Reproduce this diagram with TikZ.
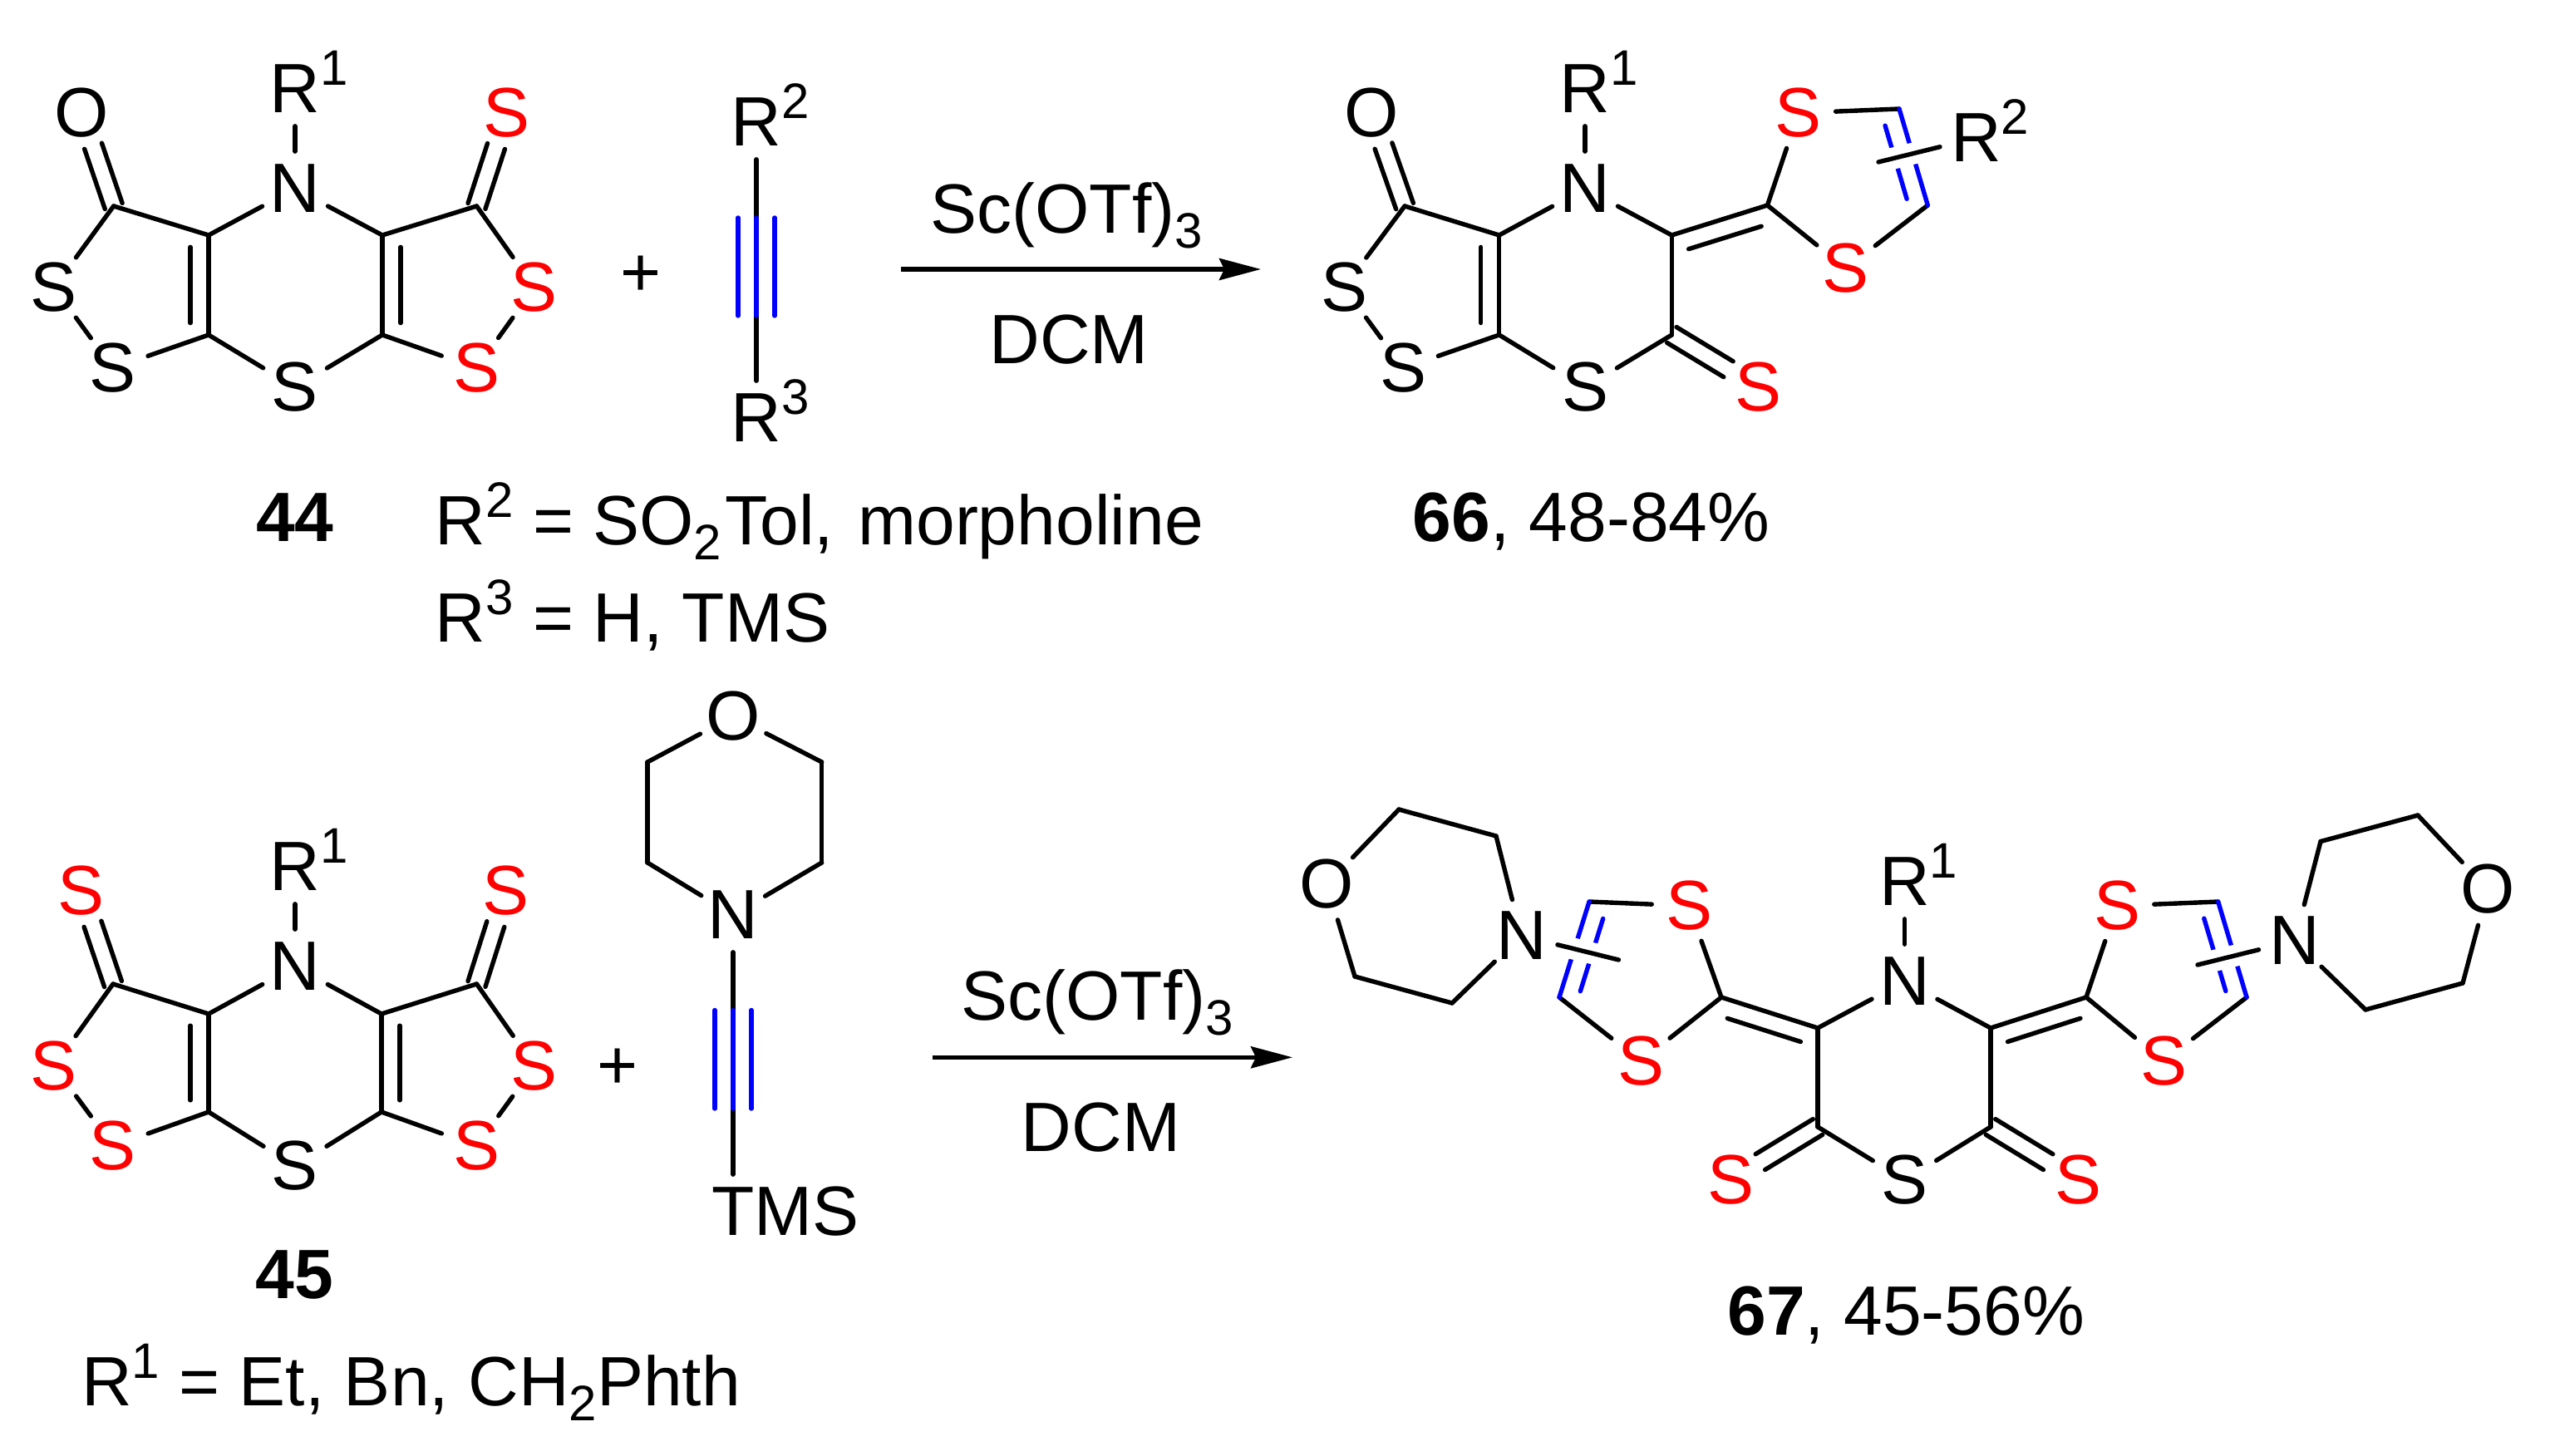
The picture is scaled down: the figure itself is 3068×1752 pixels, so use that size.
\documentclass[tikz,border=0pt]{standalone}
\usepackage{fontspec}
\setmainfont{Liberation Sans}
\usetikzlibrary{arrows.meta,calc}

\newcommand{\smallnum}[1]{\fontsize{15pt}{15pt}\selectfont #1}
\newcommand{\upnum}[1]{\raisebox{8.25pt}{\smallnum{#1}}}
\newcommand{\dnnum}[1]{\raisebox{-4.5pt}{\smallnum{#1}}}
\newcommand{\rsup}[1]{\rlap{\smash{\upnum{#1}}}}
\newcommand{\inbond}[3][black]{\draw[bond,#1] ($(#2)!.12!(#3)!5.5pt!90:(#3)$) -- ($(#3)!.12!(#2)!5.5pt!-90:(#2)$);}
\newcommand{\exobond}[2]{\draw[bond] ($(#1)!2.75pt!90:(#2)$) -- ($(#2)!10.5pt!(#1)!2.75pt!-90:(#1)$)
    ($(#1)!2.75pt!-90:(#2)$) -- ($(#2)!10.5pt!(#1)!2.75pt!90:(#1)$);}
\newcommand{\tribond}[2]{\draw[bond,blue] (#1) -- (#2)
    ($(#1)!5.5pt!90:(#2)$) -- ($(#2)!5.5pt!-90:(#1)$)
    ($(#1)!5.5pt!-90:(#2)$) -- ($(#2)!5.5pt!90:(#1)$);}

\begin{document}
\begin{tikzpicture}[x=.25pt,y=-.25pt,
    atom/.style={circle,inner sep=0pt,minimum size=22pt,font=\fontsize{21pt}{25pt}\selectfont},
    redatom/.style={atom,text=red},
    txt/.style={inner sep=0pt,font=\fontsize{21pt}{25pt}\selectfont},
    bond/.style={line width=1.35pt,line cap=round,line join=round},
    halo/.style={preaction={draw,white,line width=6.5pt,line cap=butt}},
    rxn/.style={line width=1.3pt,-{Stealth[length=12.5pt,width=6.5pt,inset=1.5pt]}}]
   \useasboundingbox (0,0) rectangle (3068,1752);

   \node[atom] (a_r) at (355,107) {R\rsup{1}};
   \node[atom] (a_n) at (355,227) {N};
   \node[atom] (a_o) at (98.5,136) {O};
   \node[atom] (a_s1) at (355,466) {S};
   \node[atom] (a_s2) at (65,346) {S};
   \node[atom] (a_s3) at (135.7,443) {S};
   \node[redatom] (a_s4) at (643,346) {S};
   \node[redatom] (a_s5) at (573.5,443) {S};
   \node[redatom] (a_s6) at (610,136) {S};
   \coordinate (a_1) at (251,283);
   \coordinate (a_2) at (460,283);
   \coordinate (a_3) at (251,403);
   \coordinate (a_4) at (460,403);
   \coordinate (a_5) at (136.7,248);
   \coordinate (a_6) at (573.5,248);
   \path[bond]
    (a_r) edge (a_n)
    (a_n) edge (a_1) edge (a_2)
    (a_1) edge (a_3) edge (a_5)
    (a_2) edge (a_4) edge (a_6)
    (a_s1) edge (a_3) edge (a_4)
    (a_s2) edge (a_5) edge (a_s3)
    (a_s3) edge (a_3)
    (a_s4) edge (a_6) edge (a_s5)
    (a_s5) edge (a_4);
   \inbond{a_3}{a_1}
   \inbond{a_2}{a_4}
   \exobond{a_5}{a_o}
   \exobond{a_6}{a_s6}
   \node[txt,anchor=base] (a_lab) at (355,652) {\bfseries 44};

   \node[atom] (plus_a) at (770.6,332) {+};

   \node[atom] (b_r2) at (910,147) {R\rsup{2}};
   \node[atom] (b_r3) at (910,503) {R\rsup{3}};
   \coordinate (b_1) at (910,262);
   \coordinate (b_2) at (910,380);
   \path[bond] (b_r2) edge (b_1) (b_2) edge (b_r3);
   \tribond{b_1}{b_2}
   \node[txt,anchor=base west] (b_l2) at (523,656) {R\upnum{2} = SO\dnnum{2}\kern1pt Tol,\kern1.5pt{} morpholine};
   \node[txt,anchor=base west] (b_l3) at (523,773) {R\upnum{3} = H, TMS};

   \coordinate (arr_a) at (1084.4,324);
   \coordinate (arr_b) at (1517,324);
   \draw[rxn] (arr_a) -- (arr_b);
   \node[txt,anchor=base] (cat_a) at (1283,280.7) {Sc(OTf)\dnnum{3}};
   \node[txt,anchor=base] (sol_a) at (1286,437.7) {DCM};

   \node[atom] (c_r) at (1907,107) {R\rsup{1}};
   \node[atom] (c_n) at (1907,227) {N};
   \node[atom] (c_o) at (1650.6,136) {O};
   \node[atom] (c_s1) at (1907,466) {S};
   \node[atom] (c_s2) at (1617,346) {S};
   \node[atom] (c_s3) at (1688,443) {S};
   \node[redatom] (c_s4) at (2115.4,466) {S};
   \node[redatom] (c_s5) at (2163.8,136) {S};
   \node[redatom] (c_s6) at (2220.7,323) {S};
   \node[atom] (c_r2) at (2377.5,166) {R\rsup{2}};
   \coordinate (c_1) at (1803.7,283);
   \coordinate (c_2) at (2011.3,283);
   \coordinate (c_3) at (1803.7,403);
   \coordinate (c_4) at (2011.3,403);
   \coordinate (c_5) at (1690,248);
   \coordinate (c_6) at (2126.4,247);
   \coordinate (c_7) at (2285,131);
   \coordinate (c_8) at (2319.3,247);
   \coordinate (c_x) at (2260,195);
   \path[bond]
    (c_r) edge (c_n)
    (c_n) edge (c_1) edge (c_2)
    (c_1) edge (c_3) edge (c_5)
    (c_2) edge (c_4) edge (c_6)
    (c_s1) edge (c_3) edge (c_4)
    (c_s2) edge (c_5) edge (c_s3)
    (c_s3) edge (c_3)
    (c_s5) edge (c_6) edge (c_7)
    (c_s6) edge (c_6) edge (c_8);
   \inbond{c_3}{c_1}
   \inbond{c_6}{c_2}
   \exobond{c_5}{c_o}
   \exobond{c_4}{c_s4}
   \draw[bond,blue] (c_7) -- (c_8);
   \inbond[blue]{c_8}{c_7}
   \draw[bond,halo] (c_r2) -- (c_x);
   \node[txt,anchor=base west] (c_lab) at (1699,652) {\textbf{66}, 48-84\%};

   \node[atom] (d_r) at (355,1043) {R\rsup{1}};
   \node[atom] (d_n) at (355,1163) {N};
   \node[atom] (d_s1) at (355,1403) {S};
   \node[redatom] (d_s2) at (65,1283) {S};
   \node[redatom] (d_s3) at (136,1379) {S};
   \node[redatom] (d_s4) at (643,1283) {S};
   \node[redatom] (d_s5) at (573.5,1379) {S};
   \node[redatom] (d_s6) at (98,1072) {S};
   \node[redatom] (d_s7) at (609,1072) {S};
   \coordinate (d_1) at (251,1220);
   \coordinate (d_2) at (459,1220);
   \coordinate (d_3) at (251,1338);
   \coordinate (d_4) at (459,1338);
   \coordinate (d_5) at (136,1184);
   \coordinate (d_6) at (573.5,1184);
   \path[bond]
    (d_r) edge (d_n)
    (d_n) edge (d_1) edge (d_2)
    (d_1) edge (d_3) edge (d_5)
    (d_2) edge (d_4) edge (d_6)
    (d_s1) edge (d_3) edge (d_4)
    (d_s2) edge (d_5) edge (d_s3)
    (d_s3) edge (d_3)
    (d_s4) edge (d_6) edge (d_s5)
    (d_s5) edge (d_4);
   \inbond{d_3}{d_1}
   \inbond{d_2}{d_4}
   \exobond{d_5}{d_s6}
   \exobond{d_6}{d_s7}
   \node[txt,anchor=base] (d_lab) at (354.6,1562) {\bfseries 45};
   \node[txt,anchor=base west] (d_l1) at (97.4,1691) {R\upnum{1} = Et, Bn, CH\dnnum{2}Phth};

   \node[atom] (plus_b) at (743,1286) {+};

   \node[atom] (e_o) at (882,862) {O};
   \node[atom] (e_n) at (882,1101) {N};
   \node[atom] (e_t) at (882,1458) {T\rlap{MS}};
   \coordinate (e_1) at (779,917);
   \coordinate (e_2) at (779,1038);
   \coordinate (e_3) at (988.7,917);
   \coordinate (e_4) at (988.7,1038);
   \coordinate (e_5) at (882,1215.5);
   \coordinate (e_6) at (882,1334);
   \path[bond]
    (e_o) edge (e_1) edge (e_3)
    (e_1) edge (e_2)
    (e_3) edge (e_4)
    (e_n) edge (e_2) edge (e_4) edge (e_5)
    (e_6) edge (e_t);
   \tribond{e_5}{e_6}

   \coordinate (arr_c) at (1121.7,1272.3);
   \coordinate (arr_d) at (1555,1272.3);
   \draw[rxn] (arr_c) -- (arr_d);
   \node[txt,anchor=base] (cat_b) at (1320,1227.7) {Sc(OTf)\dnnum{3}};
   \node[txt,anchor=base] (sol_b) at (1324.5,1385) {DCM};

   \node[atom] (f_r) at (2291.5,1061) {R\rsup{1}};
   \node[atom] (f_n) at (2291.5,1181) {N};
   \node[atom] (f_s1) at (2291.5,1420) {S};
   \node[redatom] (f_s2) at (2082,1420) {S};
   \node[redatom] (f_s3) at (2500,1420) {S};
   \node[redatom] (f_s4) at (2032,1090) {S};
   \node[redatom] (f_s5) at (1974,1277) {S};
   \node[redatom] (f_s6) at (2547,1090) {S};
   \node[redatom] (f_s7) at (2603,1277) {S};
   \node[atom] (f_n1) at (1830.4,1126) {N};
   \node[atom] (f_n2) at (2761,1132) {N};
   \node[atom] (f_o1) at (1596.5,1064) {O};
   \node[atom] (f_o2) at (2993,1070) {O};
   \coordinate (f_1) at (2187,1237);
   \coordinate (f_2) at (2395,1237);
   \coordinate (f_3) at (2187,1356);
   \coordinate (f_4) at (2395,1356);
   \coordinate (f_5) at (2071,1200);
   \coordinate (f_6) at (2510,1200);
   \coordinate (f_7) at (1912,1085);
   \coordinate (f_8) at (1876,1200);
   \coordinate (f_9) at (2668.7,1085);
   \coordinate (f_10) at (2703,1200);
   \coordinate (f_x1) at (1947.4,1155);
   \coordinate (f_x2) at (2644,1161);
   \coordinate (f_m1) at (1683,974);
   \coordinate (f_m2) at (1800,1006);
   \coordinate (f_m3) at (1630,1175);
   \coordinate (f_m4) at (1747,1207);
   \coordinate (f_m5) at (2909,981);
   \coordinate (f_m6) at (2792,1012.5);
   \coordinate (f_m7) at (2963,1183);
   \coordinate (f_m8) at (2846,1215);
   \path[bond]
    (f_r) edge (f_n)
    (f_n) edge (f_1) edge (f_2)
    (f_1) edge (f_3) edge (f_5)
    (f_2) edge (f_4) edge (f_6)
    (f_s1) edge (f_3) edge (f_4)
    (f_s4) edge (f_5) edge (f_7)
    (f_s5) edge (f_5) edge (f_8)
    (f_s6) edge (f_6) edge (f_9)
    (f_s7) edge (f_6) edge (f_10)
    (f_o1) edge (f_m1) edge (f_m3)
    (f_m1) edge (f_m2)
    (f_m3) edge (f_m4)
    (f_n1) edge (f_m2) edge (f_m4)
    (f_o2) edge (f_m5) edge (f_m7)
    (f_m5) edge (f_m6)
    (f_m7) edge (f_m8)
    (f_n2) edge (f_m6) edge (f_m8);
   \inbond{f_1}{f_5}
   \inbond{f_6}{f_2}
   \exobond{f_3}{f_s2}
   \exobond{f_4}{f_s3}
   \draw[bond,blue] (f_7) -- (f_8);
   \draw[bond,blue] (f_9) -- (f_10);
   \inbond[blue]{f_7}{f_8}
   \inbond[blue]{f_10}{f_9}
   \draw[bond,halo] (f_n1) -- (f_x1);
   \draw[bond,halo] (f_n2) -- (f_x2);
   \node[txt,anchor=base west] (f_lab) at (2077.5,1606) {\textbf{67}, 45-56\%};
\end{tikzpicture}
\end{document}
